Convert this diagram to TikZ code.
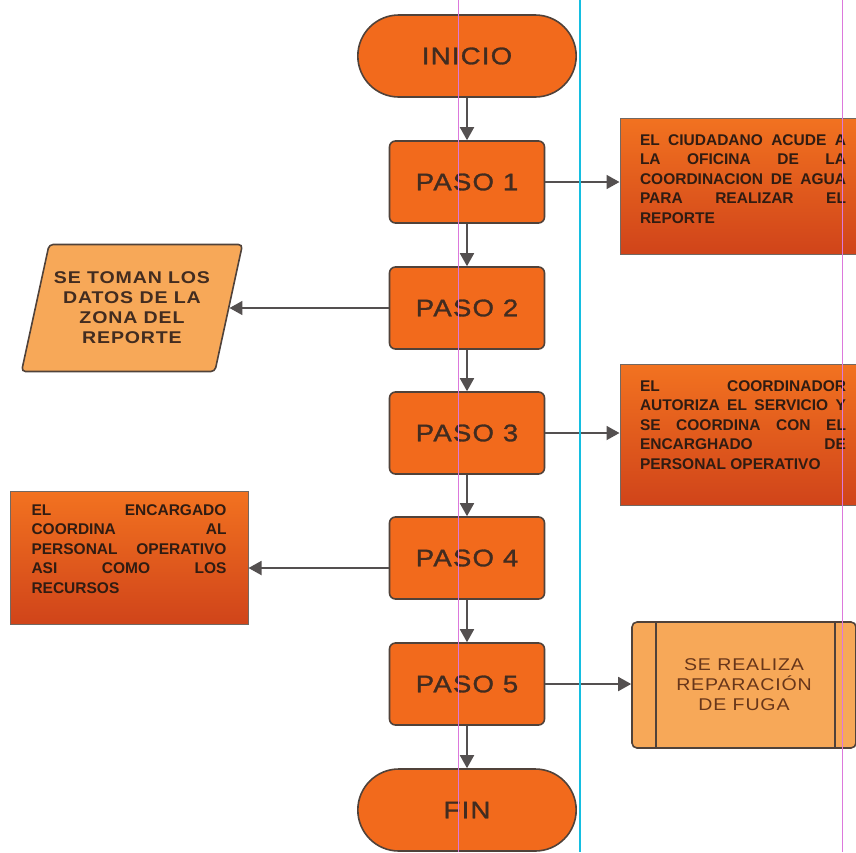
\documentclass[tikz,border=0pt]{standalone}
\usepackage{fontspec}
\setmainfont{Liberation Sans}
\newfontfamily\anchafont[FakeStretch=1.15,LetterSpace=5]{Liberation Sans}
\newfontfamily\pasofamilia[FakeStretch=1.15,LetterSpace=5,FakeBold=1.2]{Liberation Sans}
\usetikzlibrary{shapes.geometric,shapes.misc,arrows.meta}

\definecolor{naranja}{RGB}{242,106,28}
\definecolor{claro}{RGB}{247,168,88}
\definecolor{borde}{RGB}{80,66,58}
\definecolor{texto}{RGB}{66,44,32}
\definecolor{notaarriba}{RGB}{242,114,32}
\definecolor{notaabajo}{RGB}{208,68,26}
\definecolor{notatexto}{RGB}{48,28,18}
\definecolor{gris}{RGB}{84,80,80}
\definecolor{guiarosa}{RGB}{220,120,220}
\definecolor{guiacian}{RGB}{20,190,225}

\newcommand{\pasofont}{\pasofamilia\fontsize{24}{26}\selectfont}
\newcommand{\notafont}{\bfseries\fontsize{15.5}{19.5}\selectfont}

\tikzset{
	paso/.style={draw=borde, line width=1.6pt, fill=naranja, rounded corners=6pt,
		minimum width=155pt, minimum height=82pt, text=texto, font=\pasofont},
	terminal/.style={rounded rectangle, draw=borde, line width=1.6pt, fill=naranja,
		minimum width=225pt, minimum height=82pt, text=texto, font=\pasofont},
	nota/.style={draw=borde!80, line width=1pt, top color=notaarriba, bottom color=notaabajo,
		text=notatexto, font=\notafont, align=justify, inner xsep=20pt},
	datos/.style={trapezium, trapezium stretches=true, trapezium left angle=71,
		trapezium right angle=109, rounded corners=4pt, draw=borde, line width=1.6pt,
		fill=claro, minimum width=221pt, minimum height=127pt, align=center,
		text=texto, font=\anchafont\bfseries\fontsize{17}{20}\selectfont},
	predef/.style={draw=borde, line width=1.6pt, fill=claro, rounded corners=5pt,
		minimum width=224pt, minimum height=126pt, align=center, text={rgb,255:red,104;green,54;blue,26},
		font=\anchafont\fontsize{17}{20}\selectfont,
		path picture={
			\draw[borde, line width=2pt] ([xshift=24pt]path picture bounding box.north west) -- ([xshift=24pt]path picture bounding box.south west);
			\draw[borde, line width=2pt] ([xshift=-21pt]path picture bounding box.north east) -- ([xshift=-21pt]path picture bounding box.south east);
		}},
	flecha/.style={-{Triangle[length=13pt,width=14pt]}, line width=1.8pt, draw=gris},
	guia/.style={line width=0.9pt}
}

\begin{document}
\begin{tikzpicture}[x=1pt, y=-1pt]
	\useasboundingbox (0,0) rectangle (856,852);

	\path	(467,56)	node[terminal] (inicio)	{INICIO}
		(467,182)	node[paso] (paso1)	{PASO 1}
		(467,308)	node[paso] (paso2)	{PASO 2}
		(467,433)	node[paso] (paso3)	{PASO 3}
		(467,558)	node[paso] (paso4)	{PASO 4}
		(467,684)	node[paso] (paso5)	{PASO 5}
		(467,810)	node[terminal] (fin)	{FIN}

		(743,186)	node[nota, text width=206pt, minimum height=136pt] (ciudadano)
			{EL~CIUDADANO~ACUDE~A\linebreak LA~OFICINA~DE~LA\linebreak COORDINACION~DE~AGUA\linebreak PARA~REALIZAR~EL\linebreak REPORTE\\[-5.5pt]\mbox{}}

		(132,308)	node[datos] (datos)
			{SE TOMAN LOS\\DATOS DE LA\\ZONA DEL\\REPORTE}

		(743,435)	node[nota, text width=206pt, minimum height=141pt] (coordinador)
			{EL~COORDINADOR\linebreak AUTORIZA~EL~SERVICIO~Y\linebreak SE~COORDINA~CON~EL\linebreak ENCARGHADO~DE\linebreak PERSONAL~OPERATIVO\\[0.5pt]\mbox{}}

		(129,558)	node[nota, text width=195pt, minimum height=133pt, inner xsep=21.5pt] (encargado)
			{EL~ENCARGADO\linebreak COORDINA~AL\linebreak PERSONAL~OPERATIVO\linebreak ASI~COMO~LOS\linebreak RECURSOS\\[-1.5pt]\mbox{}}

		(744,685)	node[predef] (reparacion)
			{SE REALIZA\\REPARACIÓN\\DE FUGA}
	;

	% flujo principal
	\draw[flecha] (inicio) -- (paso1);
	\draw[flecha] (paso1) -- (paso2);
	\draw[flecha] (paso2) -- (paso3);
	\draw[flecha] (paso3) -- (paso4);
	\draw[flecha] (paso4) -- (paso5);
	\draw[flecha] (paso5) -- (fin);

	% salidas laterales
	\draw[flecha] (paso1.east) -- (paso1.east -| ciudadano.west);
	\draw[flecha] (paso2.west) -- (paso2.west -| datos.east);
	\draw[flecha] (paso3.east) -- (paso3.east -| coordinador.west);
	\draw[flecha] ([yshift=-10pt]paso4.west) -- ([yshift=-10pt]paso4.west -| encargado.east);
	\draw[flecha] (paso5.east) -- (paso5.east -| reparacion.west);

	% guias de la pagina
	\draw[guia, guiarosa] (458,0) -- (458,852);
	\draw[guia, guiacian, line width=1.3pt] (580,0) -- (580,852);
	\draw[guia, guiarosa] (842,0) -- (842,852);
\end{tikzpicture}
\end{document}
